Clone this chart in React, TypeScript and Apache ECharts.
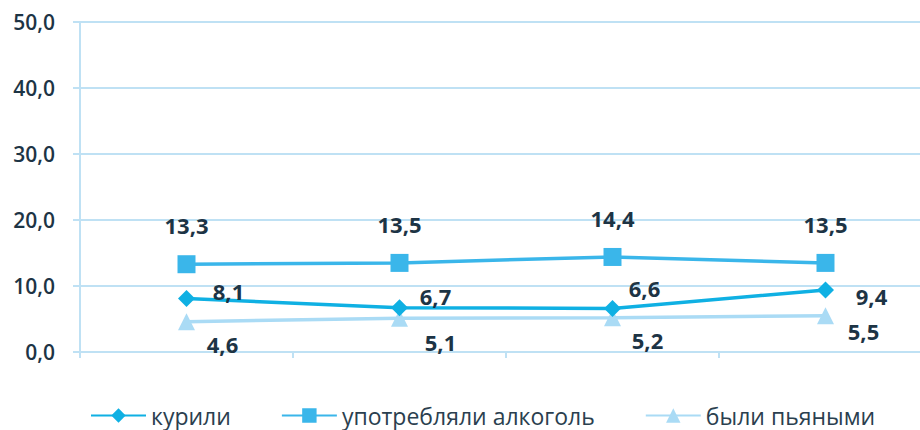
import React, { useEffect, useRef } from "react";
import * as echarts from "echarts";

const categories = ["1", "2", "3", "4"];
const smoked = [8.1, 6.7, 6.6, 9.4];
const alcohol = [13.3, 13.5, 14.4, 13.5];
const drunk = [4.6, 5.1, 5.2, 5.5];
const seriesNames = ["курили", "употребляли алкоголь", "были пьяными"];

// label offsets (style only)
const smokedOffsets = [[42, -8], [36, -12], [32, -20], [46, 6]];
const drunkOffsets = [[36, 22], [41, 24], [35, 22], [38, 15]];

const FONT = "'Open Sans', 'DejaVu Sans', sans-serif";
const LABEL_COLOR = "#1d3445";

export default function App() {
  const ref = useRef<HTMLDivElement>(null);
  useEffect(() => {
    const chart = echarts.init(ref.current!, null, { renderer: "svg" });
    const labelStyle = {
      show: true,
      color: LABEL_COLOR,
      fontFamily: FONT,
      fontWeight: "bold",
      fontSize: 22,
      formatter: (p: any) => p.value.toFixed(1).replace(".", ","),
    };
    chart.setOption({
      animation: false,
      backgroundColor: "#ffffff",
      grid: { left: 80, width: 852, top: 22, bottom: 78, outerBoundsMode: "none" },
      legend: {
        left: 90,
        top: 404,
        padding: 0,
        itemWidth: 55,
        itemHeight: 18,
        itemGap: 50,
        textStyle: { fontFamily: FONT, fontSize: 23, lineHeight: 23, color: "#2b3f4f" },
        data: seriesNames,
      },
      xAxis: {
        type: "category",
        data: categories,
        boundaryGap: true,
        axisLine: { show: true, lineStyle: { color: "#bfe1f4", width: 2 } },
        axisTick: { show: true, length: 6, lineStyle: { color: "#bfe1f4", width: 2 } },
        axisLabel: { show: false },
        splitLine: { show: false },
      },
      yAxis: {
        type: "value",
        min: 0,
        max: 50,
        interval: 10,
        axisLine: { show: true, lineStyle: { color: "#bfe1f4", width: 2 } },
        axisTick: { show: true, length: 7, lineStyle: { color: "#bfe1f4", width: 2 } },
        axisLabel: {
          margin: 25,
          color: LABEL_COLOR,
          fontFamily: FONT,
          fontSize: 21,
          fontWeight: 600,
          formatter: (v: number) => v.toFixed(1).replace(".", ","),
        },
        splitLine: { show: true, lineStyle: { color: "#bfe1f4", width: 2 } },
      },
      series: [
        {
          name: seriesNames[0],
          type: "line",
          data: smoked.map((v, i) => ({
            value: v,
            label: { position: "inside", offset: smokedOffsets[i] },
          })),
          symbol: "diamond",
          symbolSize: 17,
          lineStyle: { color: "#0fb0e3", width: 3.5 },
          itemStyle: { color: "#0fb0e3" },
          label: labelStyle,
          z: 4,
        },
        {
          name: seriesNames[1],
          type: "line",
          data: alcohol,
          symbol: "rect",
          symbolSize: 18,
          lineStyle: { color: "#3ab6ea", width: 3.5 },
          itemStyle: { color: "#3ab6ea" },
          label: { ...labelStyle, position: "top", distance: 19 },
          z: 3,
        },
        {
          name: seriesNames[2],
          type: "line",
          data: drunk.map((v, i) => ({
            value: v,
            label: { position: "inside", offset: drunkOffsets[i] },
          })),
          symbol: "triangle",
          symbolSize: 17,
          lineStyle: { color: "#aadbf5", width: 3.5 },
          itemStyle: { color: "#aadbf5" },
          label: labelStyle,
          z: 2,
        },
      ],
    });
    return () => chart.dispose();
  }, []);
  return <div ref={ref} style={{ width: 920, height: 430, position: "absolute", left: 0, top: 0 }} />;
}
